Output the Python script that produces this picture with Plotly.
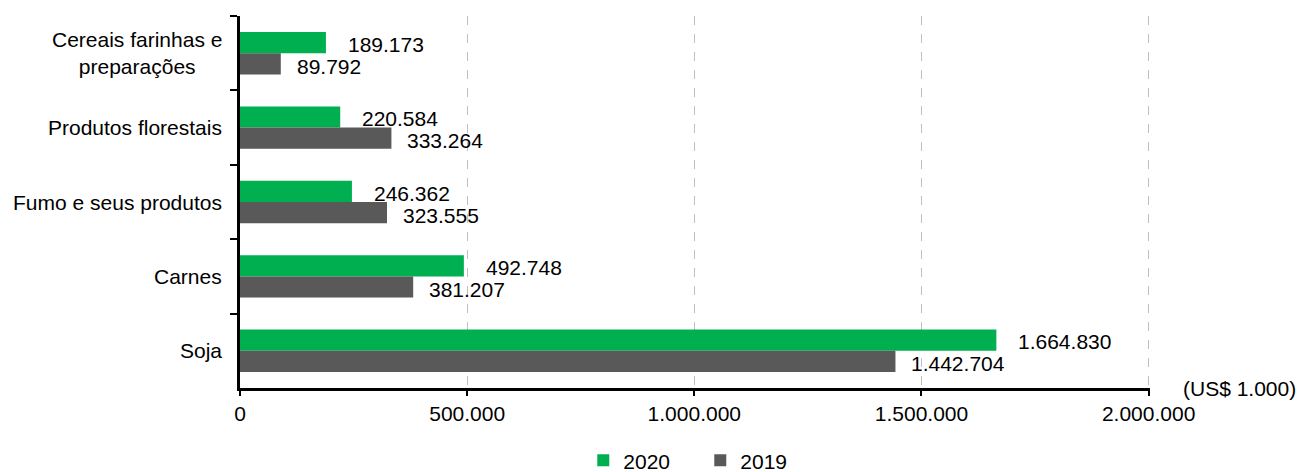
import plotly.graph_objects as go

categories = ["Cereais farinhas e preparações", "Produtos florestais",
              "Fumo e seus produtos", "Carnes", "Soja"]
cat_labels = ["Cereais farinhas e<br>preparações", "Produtos florestais",
              "Fumo e seus produtos", "Carnes", "Soja"]
v2020 = [189173, 220584, 246362, 492748, 1664830]
v2019 = [89792, 333264, 323555, 381207, 1442704]
x_ticks = [0, 500000, 1000000, 1500000, 2000000]

GREEN = "#00B050"
GRAY = "#595959"
FONT = "Liberation Sans, Arial, sans-serif"
FS = 21


def fmt(v):
    return f"{v:,}".replace(",", ".")


fig = go.Figure()
fig.add_trace(go.Bar(y=categories, x=v2020, orientation="h", name="2020",
                     marker=dict(color=GREEN, line=dict(width=0))))
fig.add_trace(go.Bar(y=categories, x=v2019, orientation="h", name="2019",
                     marker=dict(color=GRAY, line=dict(width=0))))

annotations = []
for c, v in zip(categories, v2020):
    annotations.append(dict(x=v, y=c, xref="x", yref="y", text=fmt(v),
                            showarrow=False, xanchor="left", yanchor="middle",
                            xshift=20, yshift=9,
                            font=dict(family=FONT, size=FS, color="#000")))
for c, v in zip(categories, v2019):
    annotations.append(dict(x=v, y=c, xref="x", yref="y", text=fmt(v),
                            showarrow=False, xanchor="left", yanchor="middle",
                            xshift=14, yshift=-13,
                            font=dict(family=FONT, size=FS, color="#000")))
for c, lab in zip(categories, cat_labels):
    annotations.append(dict(x=0, y=c, xref="paper", yref="y", text=lab,
                            showarrow=False, xanchor="right", yanchor="middle",
                            xshift=-16, align="center",
                            font=dict(family=FONT, size=FS, color="#000")))
annotations.append(dict(x=1, y=0, xref="paper", yref="paper", text="(US$ 1.000)",
                        showarrow=False, xanchor="left", yanchor="middle",
                        xshift=31, font=dict(family=FONT, size=FS, color="#000")))

fig.update_layout(
    width=1298, height=472,
    margin=dict(l=240, r=148, t=16, b=84),
    paper_bgcolor="white", plot_bgcolor="white",
    barmode="group", bargap=0.43, bargroupgap=0,
    separators=",.",
    font=dict(family=FONT, size=FS, color="#000"),
    showlegend=True,
    legend=dict(orientation="h", x=0.5395, xanchor="center", xref="container",
                y=0.024, yanchor="middle", yref="container",
                font=dict(family=FONT, size=FS, color="#000"),
                itemwidth=30, tracegroupgap=0,
                entrywidth=72, entrywidthmode="pixels"),
    annotations=annotations,
    xaxis=dict(range=[0, 2003000], tickvals=x_ticks, tickformat=",d",
               showgrid=True, gridcolor="#BFBFBF", griddash="dash", gridwidth=1,
               zeroline=False, showline=True, linecolor="#000", linewidth=3,
               ticks="outside", ticklen=5, tickwidth=2, tickcolor="#000",
               tickfont=dict(family=FONT, size=FS, color="#000")),
    yaxis=dict(categoryorder="array", categoryarray=categories, autorange="reversed",
               showgrid=False, zeroline=False, showline=True, linecolor="#000",
               linewidth=3, ticks="outside", ticklen=7, tickwidth=2, tickcolor="#000",
               tickson="boundaries", showticklabels=False),
)

fig.write_html("out.html")
